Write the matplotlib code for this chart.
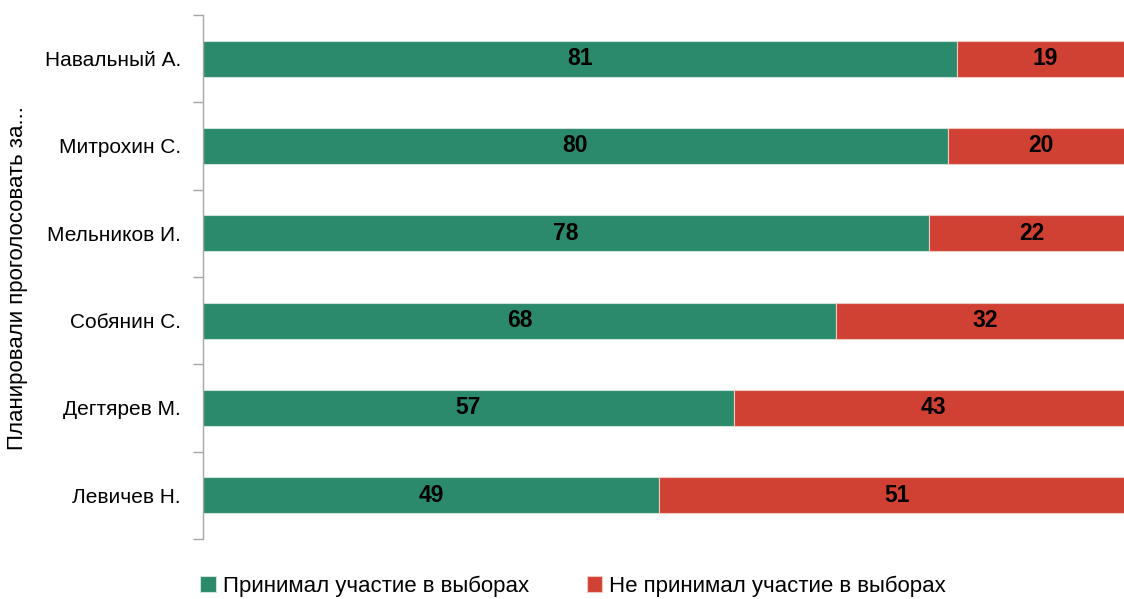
import numpy as np
import matplotlib.pyplot as plt
from matplotlib.ticker import FixedLocator, NullLocator

# ================================================
# Data
# ================================================

candidates = ["Навальный А.", "Митрохин С.", "Мельников И.",
              "Собянин С.", "Дегтярев М.", "Левичев Н."]
voted = [81, 80, 78, 68, 57, 49]
not_voted = [19, 20, 22, 32, 43, 51]
series_names = ["Принимал участие в выборах", "Не принимал участие в выборах"]

green = "#2a8a6b"
red = "#d14133"

plt.rcParams['font.family'] = ['Liberation Sans', 'DejaVu Sans']

# ================================================
# Plot
# ================================================

fig = plt.figure(figsize=(11.24, 5.99), dpi=100)
# the plot area runs a little past the right edge of the figure
ax = fig.add_axes([203 / 1124, 1 - 539 / 599, 931 / 1124, (539 - 15) / 599])

y = np.arange(len(candidates))
bar_h = 0.41
b1 = ax.barh(y, voted, height=bar_h, color=green, edgecolor="#cfe3dc", linewidth=0.8)
b2 = ax.barh(y, not_voted, left=voted, height=bar_h, color=red, edgecolor="#f0c8c2", linewidth=0.8)

for bars in (b1, b2):
    for rect in bars:
        w = rect.get_width()
        ax.text(rect.get_x() + w / 2, rect.get_y() + rect.get_height() / 2, f"{w:.0f}",
                ha="center", va="center", fontsize=16.5, fontweight="bold", color="black")

ax.set_xlim(0, 100)
ax.set_ylim(len(candidates) - 0.5, -0.5)
ax.set_yticks(y)
ax.set_yticklabels(candidates, fontsize=15)
ax.tick_params(axis="y", which="major", length=0, pad=16)
ax.yaxis.set_minor_locator(FixedLocator(np.arange(-0.5, len(candidates), 1.0)))
ax.tick_params(axis="y", which="minor", length=7, color="#a6a6a6", width=1)
ax.xaxis.set_major_locator(NullLocator())

for side in ("top", "right", "bottom"):
    ax.spines[side].set_visible(False)
ax.spines["left"].set_color("#a6a6a6")
ax.spines["left"].set_linewidth(1)

fig.text(18 / 1124, 1 - 278 / 599, "Планировали проголосовать за...", rotation=90,
         ha="center", va="center", fontsize=16)

fig.legend([b1, b2], series_names, loc="center", bbox_to_anchor=(573 / 1124, 1 - 586 / 599),
           ncol=2, frameon=False, fontsize=16, handlelength=0.7, handleheight=0.7,
           handletextpad=0.3, columnspacing=2.6)

fig.savefig("out.png", dpi=100)
